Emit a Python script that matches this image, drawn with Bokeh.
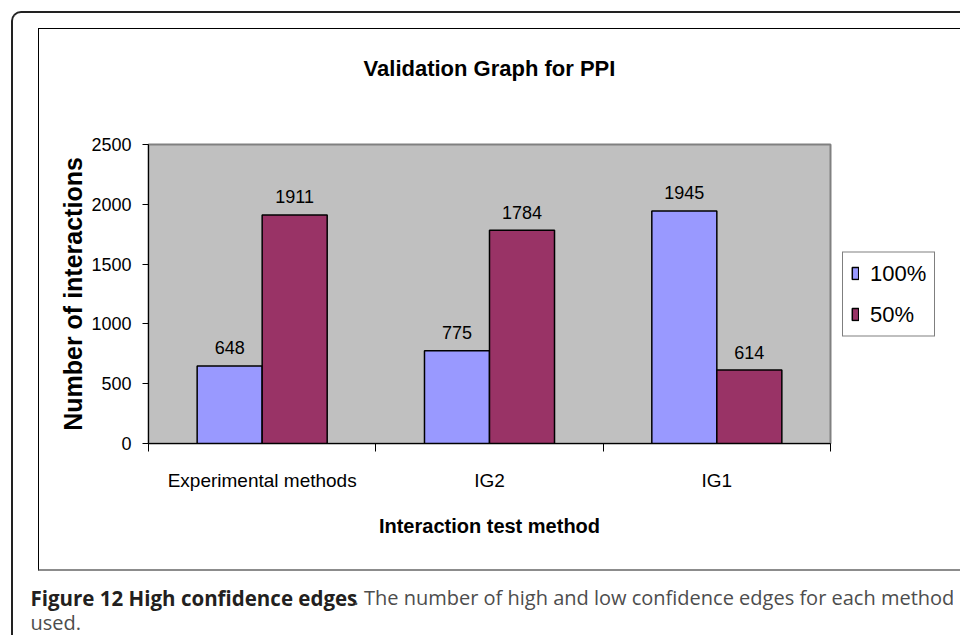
from bokeh.plotting import figure
from bokeh.layouts import column
from bokeh.models import (ColumnDataSource, FixedTicker, Label, Legend,
                          LegendItem, Range1d)
from bokeh.transform import dodge
from bokeh.core.properties import value
from bokeh.embed import file_html
from bokeh.resources import INLINE

# ---- data ----
categories = ["Experimental methods", "IG2", "IG1"]
series_names = ["100%", "50%"]
values_100 = [648, 775, 1945]
values_50 = [1911, 1784, 614]
y_ticks = [0, 500, 1000, 1500, 2000, 2500]
title_text = "Validation Graph for PPI"
x_label = "Interaction test method"
y_label = "Number of interactions"
caption_bold = "Figure 12 High confidence edges"
caption_rest = ". The number of high and low confidence edges for each method"
caption_line2 = "used."

FONT = "Liberation Sans"
pos = [i + 0.5 for i in range(len(categories))]
bounds = [float(i) for i in range(len(categories) + 1)]

src = ColumnDataSource(dict(
    x=pos,
    v100=values_100,
    v50=values_50,
    t100=[str(v) for v in values_100],
    t50=[str(v) for v in values_50],
))

FW, FH = 682, 299
BL, BR, BT, BB = 109, 115, 55, 126
TITLE_H = 60
CANVAS_W = BL + FW + BR


def style_blank(f):
    f.outline_line_color = None
    f.xgrid.visible = False
    f.ygrid.visible = False
    f.background_fill_color = "white"
    f.border_fill_color = "white"
    return f


# ---- title strip ----
tfig = style_blank(figure(frame_width=CANVAS_W, frame_height=TITLE_H,
                          output_backend="svg", toolbar_location=None,
                          title=None, x_range=Range1d(0, 1),
                          y_range=Range1d(0, 1), tools="", min_border=0,
                          x_axis_location=None, y_axis_location=None))
tfig.add_layout(Label(x=FW / 2, y=21, x_units="screen", y_units="screen",
                      text=title_text, text_align="center",
                      text_baseline="alphabetic", text_font=FONT,
                      text_font_style="bold", text_font_size="22px",
                      text_color="black"))

# ---- main chart ----
p = figure(frame_width=FW, frame_height=FH, output_backend="svg",
           toolbar_location=None, title=None,
           x_range=Range1d(0, len(categories)), y_range=Range1d(0, 2500),
           min_border_left=BL, min_border_right=BR, min_border_top=BT,
           min_border_bottom=BB, tools="")
p.background_fill_color = "#C0C0C0"
p.border_fill_color = "white"
p.outline_line_color = "#808080"
p.outline_line_width = 2
p.xgrid.visible = False
p.ygrid.visible = False

bw = 0.286
off = 0.143
r1 = p.vbar(x=dodge("x", -off, range=p.x_range), top="v100", width=bw,
            source=src, fill_color="#9999FF", line_color="black",
            line_width=1.5)
r2 = p.vbar(x=dodge("x", off, range=p.x_range), top="v50", width=bw,
            source=src, fill_color="#993366", line_color="black",
            line_width=1.5)

p.text(x=dodge("x", -off, range=p.x_range), y="v100", text="t100",
       source=src, text_align="center", text_baseline="alphabetic",
       y_offset=-18, text_font=value(FONT), text_font_size="18px",
       text_color="black")
p.text(x=dodge("x", off, range=p.x_range), y="v50", text="t50",
       source=src, text_align="center", text_baseline="alphabetic",
       y_offset=-18, text_font=value(FONT), text_font_size="18px",
       text_color="black")

# axes
xa = p.xaxis[0]
xa.ticker = FixedTicker(ticks=pos, minor_ticks=bounds)
xa.major_label_overrides = {pv: c for pv, c in zip(pos, categories)}
xa.major_tick_out = 0
xa.major_tick_in = 0
xa.minor_tick_out = 8
xa.minor_tick_in = 0
xa.minor_tick_line_color = "black"
xa.axis_line_color = "black"
xa.major_label_text_font = FONT
xa.major_label_text_font_size = "19px"
xa.major_label_text_color = "black"
xa.major_label_standoff = 18
xa.axis_label = x_label
xa.axis_label_text_font = FONT
xa.axis_label_text_font_style = "bold"
xa.axis_label_text_font_size = "20px"
xa.axis_label_text_color = "black"
xa.axis_label_standoff = 21

ya = p.yaxis[0]
ya.ticker = FixedTicker(ticks=y_ticks)
ya.major_tick_out = 6
ya.major_tick_in = 0
ya.minor_tick_line_color = None
ya.axis_line_color = "black"
ya.major_label_text_font = FONT
ya.major_label_text_font_size = "18px"
ya.major_label_text_color = "black"
ya.major_label_standoff = 11
ya.axis_label = y_label
ya.axis_label_text_font = FONT
ya.axis_label_text_font_style = "bold"
ya.axis_label_text_font_size = "25px"
ya.axis_label_text_color = "black"
ya.axis_label_standoff = 1

# legend (right side panel)
legend = Legend(items=[LegendItem(label=series_names[0], renderers=[r1]),
                       LegendItem(label=series_names[1], renderers=[r2])],
                location="center_left")
legend.label_text_font = FONT
legend.label_text_font_size = "22px"
legend.label_text_color = "black"
legend.label_height = 20
legend.glyph_height = 15
legend.glyph_width = 8
legend.spacing = 15
legend.padding = 8
legend.margin = 12
legend.label_standoff = 11
legend.border_line_color = "black"
legend.border_line_width = 1
legend.background_fill_color = "white"
legend.background_fill_alpha = 1
p.add_layout(legend, "right")

chart_wrap = column(tfig, p, spacing=0, margin=(15, 0, 0, 25),
                    styles={"border-top": "1px solid #000000",
                            "border-left": "1px solid #000000",
                            "border-right": "2px solid #8c8c8c",
                            "border-bottom": "2px solid #8c8c8c"})

# ---- caption ----
cap = style_blank(figure(width=940, height=64, output_backend="svg",
                         toolbar_location=None, x_range=Range1d(0, 1),
                         y_range=Range1d(0, 1), tools="", min_border=0,
                         x_axis_location=None, y_axis_location=None))
cap.add_layout(Label(x=17, y=38, x_units="screen", y_units="screen",
                     text=caption_bold, text_align="left",
                     text_baseline="alphabetic", text_font="Open Sans",
                     text_font_style="bold", text_font_size="20.5px",
                     text_color="#231F20"))
cap.add_layout(Label(x=340, y=38, x_units="screen", y_units="screen",
                     text=caption_rest, text_align="left",
                     text_baseline="alphabetic", text_font="Open Sans",
                     text_font_size="20px", text_color="#4D4D4D"))
cap.add_layout(Label(x=17, y=13, x_units="screen", y_units="screen",
                     text=caption_line2, text_align="left",
                     text_baseline="alphabetic", text_font="Open Sans",
                     text_font_size="20px", text_color="#4D4D4D"))

root = column(chart_wrap, cap, spacing=0, margin=(11, 0, 0, 11),
              styles={"border-top": "2px solid #222222",
                      "border-left": "2px solid #222222",
                      "border-top-left-radius": "10px"})

open("out.html", "w").write(file_html(root, INLINE))
